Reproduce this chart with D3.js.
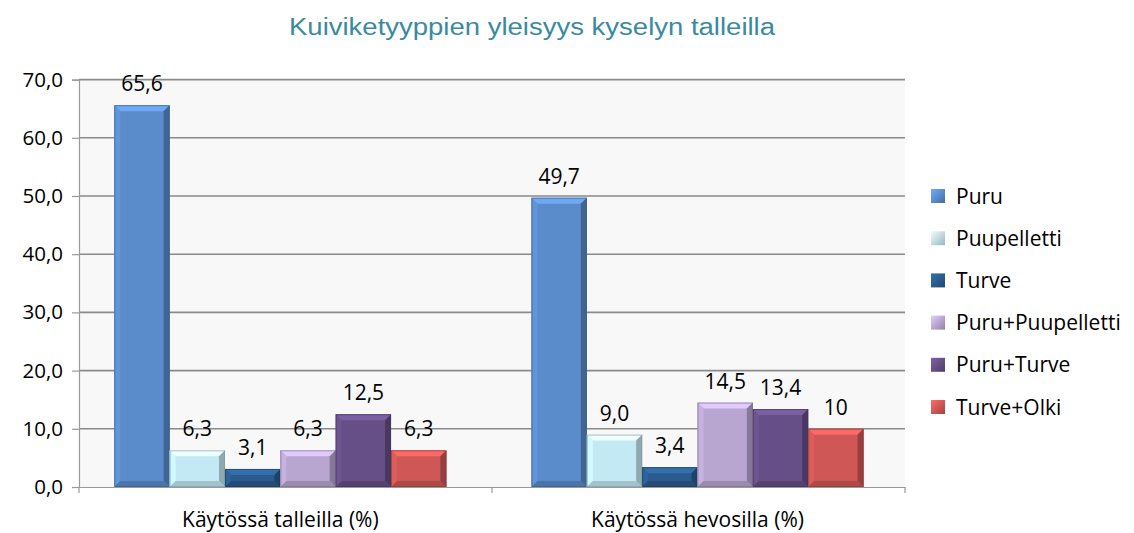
<!DOCTYPE html>
<html>
<head>
<meta charset="utf-8">
<script src="https://cdn.jsdelivr.net/npm/d3@7"></script>
<style>
  body { margin: 0; background: #fff; }
  svg { display: block; }
</style>
</head>
<body>
<main></main>
<script>
const categories = ["Käytössä talleilla (%)", "Käytössä hevosilla (%)"];
const seriesNames = ["Puru", "Puupelletti", "Turve", "Puru+Puupelletti", "Puru+Turve", "Turve+Olki"];
const talleilla = [65.6, 6.3, 3.1, 6.3, 12.5, 6.3];
const hevosilla = [49.7, 9.0, 3.4, 14.5, 13.4, 10];
const talleillaLabels = ["65,6", "6,3", "3,1", "6,3", "12,5", "6,3"];
const hevosillaLabels = ["49,7", "9,0", "3,4", "14,5", "13,4", "10"];
const colors = ["#5a8bcb", "#c3e9f4", "#2b5b8e", "#b8a6d1", "#654f86", "#cf5755"];
const yTicks = [0, 10, 20, 30, 40, 50, 60, 70];

const W = 1134, H = 533;
const plot = { left: 79, right: 905, top: 79.6, bottom: 487 };
const font = "Open Sans, sans-serif";

const rows = [talleilla, hevosilla];
const rowLabels = [talleillaLabels, hevosillaLabels];
const data = [];
categories.forEach((c, ci) => {
  seriesNames.forEach((s, si) => {
    data.push({ cat: c, series: s, value: rows[ci][si], label: rowLabels[ci][si], si: si });
  });
});

const svg = d3.select("main").append("svg").attr("width", W).attr("height", H);

// gradients for legend swatches
const defs = svg.append("defs");
colors.forEach((col, i) => {
  const g = defs.append("linearGradient").attr("id", "lg" + i)
    .attr("x1", "0").attr("y1", "0").attr("x2", "1").attr("y2", "1");
  g.append("stop").attr("offset", "0%").attr("stop-color", d3.color(col).brighter(0.6));
  g.append("stop").attr("offset", "100%").attr("stop-color", d3.color(col).darker(0.7));
});

const x0 = d3.scaleBand().domain(categories).range([plot.left, plot.right])
  .paddingInner(0.204).paddingOuter(0.092).align(0.46);
const x1 = d3.scaleBand().domain(seriesNames).range([0, x0.bandwidth()]).padding(0);
const y = d3.scaleLinear().domain([0, 70]).range([plot.bottom, plot.top]);

// plot background
svg.append("rect")
  .attr("x", plot.left).attr("y", plot.top)
  .attr("width", plot.right - plot.left).attr("height", plot.bottom - plot.top)
  .attr("fill", "#f8f8f8");

// gridlines
svg.append("g")
  .selectAll("line")
  .data(yTicks.filter(d => d > 0))
  .join("line")
  .attr("x1", plot.left).attr("x2", plot.right)
  .attr("y1", d => y(d)).attr("y2", d => y(d))
  .attr("stroke", "#8a8a8a").attr("stroke-width", 1.6);

// y axis
const yAxis = svg.append("g")
  .attr("transform", `translate(${plot.left},0)`)
  .call(d3.axisLeft(y).tickValues(yTicks).tickSize(7).tickPadding(9)
    .tickFormat(d => d3.format(".1f")(d).replace(".", ",")));
yAxis.select(".domain").attr("stroke", "#9a9a9a").attr("stroke-width", 1.2);
yAxis.selectAll(".tick line").attr("stroke", "#9a9a9a").attr("stroke-width", 1.2);
yAxis.selectAll("text").attr("font-family", font).attr("font-size", 20.5).attr("fill", "#000");

// x axis
const xAxis = svg.append("g")
  .attr("transform", `translate(0,${plot.bottom})`)
  .call(d3.axisBottom(x0).tickSize(0).tickPadding(25));
xAxis.select(".domain").attr("stroke", "#9a9a9a").attr("stroke-width", 1.2);
xAxis.selectAll("text").attr("font-family", font).attr("font-size", 21).attr("fill", "#000");
// category separator ticks
svg.append("g").selectAll("line")
  .data([plot.left, (plot.left + plot.right) / 2, plot.right])
  .join("line")
  .attr("x1", d => d).attr("x2", d => d)
  .attr("y1", plot.bottom).attr("y2", plot.bottom + 6)
  .attr("stroke", "#9a9a9a").attr("stroke-width", 1.2);

// bars with bevel
const bars = svg.append("g").selectAll("g")
  .data(data)
  .join("g")
  .attr("transform", d => `translate(${x0(d.cat) + x1(d.series)},0)`);

bars.each(function(d) {
  const g = d3.select(this);
  const w = x1.bandwidth();
  const top = y(d.value), bot = y(0), h = bot - top;
  const b = Math.min(6, h / 2);
  const col = d3.color(colors[d.si]);
  g.append("rect").attr("x", 0).attr("y", top).attr("width", w).attr("height", h).attr("fill", col);
  // top bevel
  g.append("path").attr("d", `M0,${top}L${w},${top}L${w - b},${top + b}L${b},${top + b}Z`)
    .attr("fill", col.brighter(0.55));
  // left bevel
  g.append("path").attr("d", `M0,${top}L${b},${top + b}L${b},${bot - b}L0,${bot}Z`)
    .attr("fill", col.brighter(0.2));
  // right bevel
  g.append("path").attr("d", `M${w},${top}L${w - b},${top + b}L${w - b},${bot - b}L${w},${bot}Z`)
    .attr("fill", col.darker(0.9));
  // bottom bevel
  g.append("path").attr("d", `M0,${bot}L${b},${bot - b}L${w - b},${bot - b}L${w},${bot}Z`)
    .attr("fill", col.darker(0.5));
  g.append("rect").attr("x", 0.5).attr("y", top + 0.5).attr("width", w - 1).attr("height", h - 1)
    .attr("fill", "none").attr("stroke", col.darker(1.2)).attr("stroke-width", 1).attr("stroke-opacity", 0.6);
});

// data labels
svg.append("g").selectAll("text")
  .data(data)
  .join("text")
  .attr("x", d => x0(d.cat) + x1(d.series) + x1.bandwidth() / 2)
  .attr("y", d => y(d.value) - 14)
  .attr("text-anchor", "middle")
  .attr("font-family", font)
  .attr("font-size", 21)
  .attr("fill", "#000")
  .text(d => d.label);

// title
svg.append("text")
  .attr("x", 532).attr("y", 35)
  .attr("text-anchor", "middle")
  .attr("font-family", "Liberation Sans, Arial, sans-serif")
  .attr("font-size", 23)
  .attr("textLength", 486)
  .attr("lengthAdjust", "spacingAndGlyphs")
  .attr("fill", "#3a8aa0")
  .text("Kuiviketyyppien yleisyys kyselyn talleilla");

// legend
const legend = svg.append("g").selectAll("g")
  .data(seriesNames)
  .join("g")
  .attr("transform", (d, i) => `translate(931,${196 + i * 42.2})`);
legend.append("rect").attr("x", 0).attr("y", -7).attr("width", 14).attr("height", 14)
  .attr("fill", (d, i) => `url(#lg${i})`);
legend.append("text").attr("x", 25).attr("y", 7.5)
  .attr("font-family", font).attr("font-size", 21).attr("fill", "#000")
  .text(d => d);
</script>
</body>
</html>
